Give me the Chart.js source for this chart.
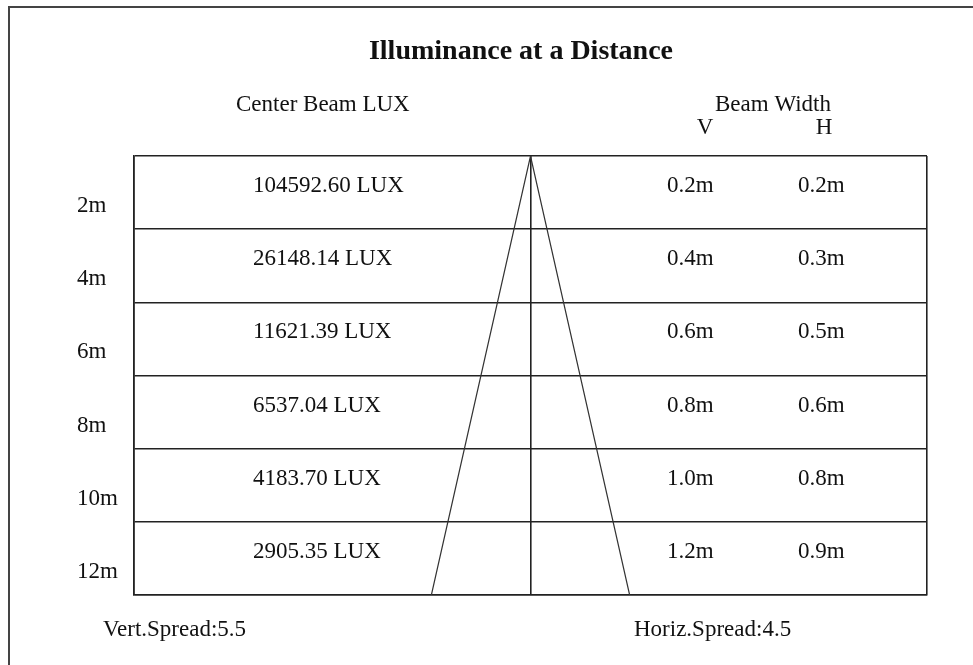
<!DOCTYPE html>
<html>
<head>
<meta charset="utf-8">
<title>Illuminance at a Distance</title>
<script src="https://cdn.jsdelivr.net/npm/chart.js@4.4.0/dist/chart.umd.min.js"></script>
<style>
  body { margin: 0; background: #fff; }
  #wrap { position: relative; width: 973px; height: 665px; overflow: hidden; }
  #frame {
    position: absolute; left: 8px; top: 6px; width: 1000px; height: 700px;
    border-left: 2px solid #444; border-top: 2px solid #444;
  }
  canvas { position: absolute; left: 0; top: 0; }
</style>
</head>
<body>
<div id="wrap">
  <div id="frame"></div>
  <canvas id="beamChart" width="973" height="665"></canvas>
</div>
<script>
// chart data
const distances = [2, 4, 6, 8, 10, 12];
const distanceLabels = ['2m', '4m', '6m', '8m', '10m', '12m'];
const centerLux = [104592.60, 26148.14, 11621.39, 6537.04, 4183.70, 2905.35];
const beamWidthV = [0.2, 0.4, 0.6, 0.8, 1.0, 1.2];
const beamWidthH = [0.2, 0.3, 0.5, 0.6, 0.8, 0.9];
const vertSpread = 5.5;
const horizSpread = 4.5;
const xHalfRange = 2.4;   // half width of the drawing, metres

// beam cone drawn from the vertical beam width at the farthest distance
const maxDist = distances[distances.length - 1];
const halfBeam = beamWidthV[beamWidthV.length - 1] / 2;
const conePoints = [
    { x: -halfBeam, y: maxDist },
    { x: 0, y: 0 },
    { x: halfBeam, y: maxDist }
];

const serif = '"Liberation Serif", "Times New Roman", serif';

// Draws the title, headers and the table text
const tableText = {
    id: 'tableText',
    afterDraw(chart) {
        const c = chart.ctx;
        const ys = chart.scales.y;
        c.save();
        c.fillStyle = '#111';
        c.textBaseline = 'middle';

        c.font = 'bold 28px ' + serif;
        c.textAlign = 'center';
        c.fillText('Illuminance at a Distance', 521, 52);

        c.font = '23px ' + serif;
        c.textAlign = 'left';
        c.fillText('Center Beam LUX', 236, 105);
        c.fillText('Beam Width', 715, 105);
        c.textAlign = 'center';
        c.fillText('V', 705, 128);
        c.fillText('H', 824, 128);

        c.textAlign = 'left';
        distances.forEach((d, i) => {
            const rowText = ys.getPixelForValue(d - 1.18);
            c.fillText(distanceLabels[i], 77, ys.getPixelForValue(d - 0.63));
            c.fillText(centerLux[i].toFixed(2) + ' LUX', 253, rowText);
            c.fillText(beamWidthV[i].toFixed(1) + 'm', 667, rowText);
            c.fillText(beamWidthH[i].toFixed(1) + 'm', 798, rowText);
        });

        c.fillText('Vert.Spread:' + vertSpread, 103, 630);
        c.fillText('Horiz.Spread:' + horizSpread, 634, 630);
        c.restore();
    }
};

new Chart(document.getElementById('beamChart'), {
    type: 'scatter',
    data: {
        datasets: [{
            data: conePoints,
            showLine: true,
            borderColor: '#333',
            borderWidth: 1.2,
            pointRadius: 0,
            tension: 0
        }]
    },
    options: {
        responsive: false,
        animation: false,
        layout: { padding: { left: 134, right: 46, top: 156, bottom: 70 } },
        plugins: { legend: { display: false }, tooltip: { enabled: false } },
        scales: {
            x: {
                type: 'linear',
                min: -xHalfRange,
                max: xHalfRange,
                ticks: { display: false, stepSize: xHalfRange },
                grid: { color: '#222', lineWidth: 1.6, drawTicks: false },
                border: { color: '#222', width: 1.6 }
            },
            y: {
                type: 'linear',
                reverse: true,
                min: 0,
                max: maxDist,
                ticks: { display: false, stepSize: 2 },
                grid: { color: '#222', lineWidth: 1.6, drawTicks: false },
                border: { color: '#222', width: 1.6 }
            }
        }
    },
    plugins: [tableText]
});
</script>
</body>
</html>
